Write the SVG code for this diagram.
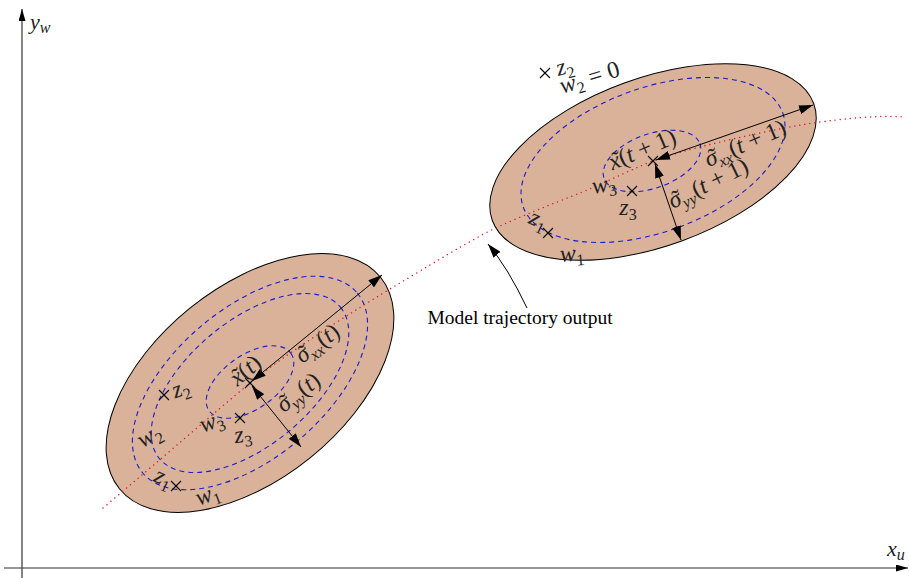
<svg xmlns="http://www.w3.org/2000/svg" width="909" height="578" viewBox="0 0 909 578">
<style>
.ax{stroke:#333;stroke-width:1.2;fill:none}
.el{fill:#d9b299;stroke:#000;stroke-width:1}
.dsh{fill:none;stroke:#1c1ccc;stroke-width:1.1;stroke-dasharray:5 4}
.traj{fill:none;stroke:#d42020;stroke-width:1.4;stroke-dasharray:0.1 5;stroke-linecap:round}
.arr{stroke:#000;stroke-width:1;fill:none;marker-start:url(#ah);marker-end:url(#ah)}
.cr{stroke:#000;stroke-width:1.1;fill:none}
.m{font-family:"Liberation Serif",serif;font-style:italic;font-size:24px;fill:#222}
.a{font-family:"Liberation Serif",serif;font-style:italic;font-size:22px;fill:#222}
.u{font-style:normal}
.s{font-size:16px}
.t{font-family:"Liberation Serif",serif;font-size:19.5px;fill:#000}
</style>
<defs>
<marker id="ah" viewBox="0 0 14 9" refX="14" refY="4.5" markerWidth="14" markerHeight="9" markerUnits="userSpaceOnUse" orient="auto-start-reverse"><path d="M0,0 L14,4.5 L0,9 z" fill="#000"/></marker>
<marker id="ah1" viewBox="0 0 14 9" refX="14" refY="4.5" markerWidth="14" markerHeight="9" markerUnits="userSpaceOnUse" orient="auto"><path d="M0,0 L14,4.5 L0,9 z" fill="#000"/></marker>
<marker id="axh" viewBox="0 0 12 7" refX="12" refY="3.5" markerWidth="12" markerHeight="7" markerUnits="userSpaceOnUse" orient="auto"><path d="M0,0 L12,3.5 L0,7 z" fill="#000"/></marker>
</defs>

<g id="axes">
<line class="ax" x1="22" y1="578" x2="22" y2="9" marker-end="url(#axh)"/>
<line class="ax" x1="4" y1="568" x2="908" y2="568" marker-end="url(#axh)"/>
<text class="a" x="30" y="29">y<tspan class="s" dy="4">w</tspan></text>
<text class="a" x="887" y="556">x<tspan class="s" dy="4">u</tspan></text>
</g>

<g id="ellipse-t">
<ellipse class="el" cx="250" cy="383" rx="168" ry="96" transform="rotate(-39 250 383)"/>
<ellipse class="dsh" cx="250" cy="383" rx="140" ry="75" transform="rotate(-40 250 383)"/>
<ellipse class="dsh" cx="250" cy="383" rx="118" ry="62" transform="rotate(-40 250 383)"/>
<ellipse class="dsh" cx="250" cy="382" rx="50" ry="27" transform="rotate(-35 250 382)"/>
</g>

<g id="ellipse-t1">
<ellipse class="el" cx="653" cy="162" rx="171" ry="84" transform="rotate(-20 653 162)"/>
<ellipse class="dsh" cx="653" cy="160" rx="138" ry="72" transform="rotate(-20 653 160)"/>
<ellipse class="dsh" cx="652" cy="161" rx="51" ry="27" transform="rotate(-20 652 161)"/>
</g>

<g id="connectors">
<path class="traj" d="M103,508 C160,460 215,412 250,383 S 355,310 400,283 S 455,250 480,236 S 555,203 580,193 S 625,172 653,161 S 775,128 820,122 S 885,116 905,117"/>
<line class="arr" x1="252" y1="381" x2="382" y2="275"/>
<line class="arr" x1="252" y1="386" x2="301" y2="447"/>
<line class="arr" x1="656" y1="160" x2="813" y2="105"/>
<line class="arr" x1="655" y1="164" x2="681" y2="240"/>
<path d="M527,308 Q508,268 488,244" fill="none" stroke="#000" stroke-width="1" marker-end="url(#ah1)"/>
</g>

<g id="marks-t">
<path class="cr" d="M245,378 L255,388 M245,388 L255,378"/>
<path class="cr" d="M159,390 L169,400 M159,400 L169,390"/>
<path class="cr" d="M235,413 L245,423 M235,423 L245,413"/>
<path class="cr" d="M171,481 L181,491 M171,491 L181,481"/>
</g>
<g id="marks-t1">
<path class="cr" d="M648,156 L658,166 M648,166 L658,156"/>
<path class="cr" d="M540,68 L550,78 M540,78 L550,68"/>
<path class="cr" d="M627,186 L637,196 M627,196 L637,186"/>
<path class="cr" d="M543,228 L553,238 M543,238 L553,228"/>
</g>

<g id="labels-t">
<text class="m" text-anchor="middle" transform="translate(245,370) rotate(-40)" y="8">x<tspan dx="-7.5">˜</tspan><tspan class="u" dx="-0.5">(</tspan>t<tspan class="u">)</tspan></text>
<text class="m" text-anchor="middle" transform="translate(317,343) rotate(-37)" y="8">σ<tspan dx="-8">˜</tspan><tspan class="s" dy="5">xx</tspan><tspan class="u" dy="-5">(</tspan>t<tspan class="u">)</tspan></text>
<text class="m" text-anchor="middle" transform="translate(298,392) rotate(-38)" y="8">σ<tspan dx="-8">˜</tspan><tspan class="s" dy="5">yy</tspan><tspan class="u" dy="-5">(</tspan>t<tspan class="u">)</tspan></text>
<text class="m" text-anchor="middle" transform="translate(181,390) rotate(-20)" y="6">z<tspan class="s u" dy="5">2</tspan></text>
<text class="m" text-anchor="middle" transform="translate(150,437) rotate(-30)" y="6">w<tspan class="s u" dy="5">2</tspan></text>
<text class="m" text-anchor="middle" transform="translate(212,423) rotate(-20)" y="6">w<tspan class="s u" dy="5">3</tspan></text>
<text class="m" text-anchor="middle" transform="translate(243,436) rotate(-8)" y="6">z<tspan class="s u" dy="5">3</tspan></text>
<text class="m" text-anchor="middle" transform="translate(163,479) rotate(25)" y="6">z<tspan class="s u" dy="5">1</tspan></text>
<text class="m" text-anchor="middle" transform="translate(208,496) rotate(-20)" y="6">w<tspan class="s u" dy="5">1</tspan></text>
</g>

<g id="labels-t1">
<text class="m" text-anchor="middle" transform="translate(642,149) rotate(-23)" y="8">x<tspan dx="-7.5">˜</tspan><tspan class="u" dx="-0.5">(</tspan>t<tspan class="u"> + 1)</tspan></text>
<text class="m" text-anchor="middle" transform="translate(745,143) rotate(-23)" y="8">σ<tspan dx="-8">˜</tspan><tspan class="s" dy="5">xx</tspan><tspan class="u" dy="-5">(</tspan>t<tspan class="u"> + 1)</tspan></text>
<text class="m" text-anchor="middle" transform="translate(708,183) rotate(-26)" y="8">σ<tspan dx="-8">˜</tspan><tspan class="s" dy="5">yy</tspan><tspan class="u" dy="-5">(</tspan>t<tspan class="u"> + 1)</tspan></text>
<text class="m" text-anchor="middle" transform="translate(565,68) rotate(-15)" y="6">z<tspan class="s u" dy="5">2</tspan></text>
<text class="m" text-anchor="middle" transform="translate(590,79) rotate(-17)" y="6">w<tspan class="s u" dy="5">2</tspan><tspan class="u" dy="-5"> = 0</tspan></text>
<text class="m" text-anchor="middle" transform="translate(604,186) rotate(-10)" y="6">w<tspan class="s u" dy="5">3</tspan></text>
<text class="m" text-anchor="middle" transform="translate(628,209)" y="6">z<tspan class="s u" dy="5">3</tspan></text>
<text class="m" text-anchor="middle" transform="translate(538,221) rotate(25)" y="6">z<tspan class="s u" dy="5">1</tspan></text>
<text class="m" text-anchor="middle" transform="translate(572,255) rotate(-5)" y="6">w<tspan class="s u" dy="5">1</tspan></text>
</g>

<g id="annotation">
<text class="t" x="520" y="324" text-anchor="middle">Model trajectory output</text>
</g>
</svg>
